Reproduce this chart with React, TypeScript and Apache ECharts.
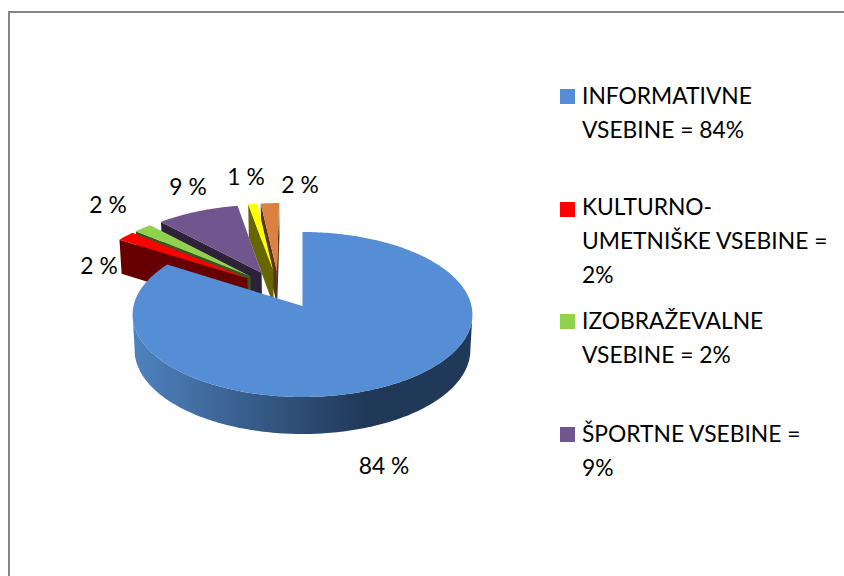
import React, { useEffect, useRef } from "react";
import * as echarts from "echarts";

const categories = ["INFORMATIVNE VSEBINE", "KULTURNO-UMETNIŠKE VSEBINE", "IZOBRAŽEVALNE VSEBINE", "ŠPORTNE VSEBINE", "OSTALO 1", "OSTALO 2"];
const values = [84, 2, 2, 9, 1, 2];
const topColors = ["#558ED5", "#FF0000", "#92D050", "#71558F", "#FFFF00", "#DB8141"];
const sideColors = ["#223A5C", "#660000", "#3A5320", "#2D2239", "#666600", "#58341A"];
const legendLines = [
  "INFORMATIVNE\nVSEBINE = 84%",
  "KULTURNO-\nUMETNIŠKE VSEBINE =\n2%",
  "IZOBRAŽEVALNE\nVSEBINE = 2%",
  "ŠPORTNE VSEBINE =\n9%",
];
const legendColors = ["#558ED5", "#FF0000", "#92D050", "#71558F"];

// layout of the view (not data)
const VIEW = { x0: 302.5, y0: 306, a: 81.6, b: 169, k: 0.103, explode: 0.24, bias: -0.028, depth: 35.3, sx: 0.988, sy: 1.019 };
const labelAnchors: [number, number][] = [[384, 465], [99, 265], [108, 204], [188, 186], [246, 176], [300, 184]];
const legendY = [95, 206, 320, 433];
const swatchY = [96, 209, 321, 434];

const total = values.reduce((s, v) => s + v, 0);
const starts: number[] = [];
values.reduce((acc, v, i) => { starts[i] = acc; return acc + (v / total) * Math.PI * 2; }, 0);
const ends = values.map((v, i) => starts[i] + (v / total) * Math.PI * 2);
const dir = (t: number): [number, number] => [Math.sin(t), -Math.cos(t)];
const mid = (i: number) => (starts[i] + ends[i]) / 2;
const shift = (() => { const d = dir(mid(0)); return [-VIEW.explode * d[0], -VIEW.explode * d[1]]; })();
const offset = (i: number): [number, number] => {
  const d = dir(mid(i));
  return [
    shift[0] + VIEW.explode * d[0] + (i === 0 ? 0 : VIEW.bias),
    shift[1] + VIEW.explode * d[1],
  ];
};
const proj = (u: number, v: number, bottom: boolean): [number, number] => {
  const w = 1 - VIEW.k * v;
  const x = (VIEW.b * u) / w;
  const y = (VIEW.a * v) / w;
  return bottom
    ? [VIEW.x0 + x * VIEW.sx, VIEW.y0 + y * VIEW.sy + VIEW.depth]
    : [VIEW.x0 + x, VIEW.y0 + y];
};
const order = values.map((_, i) => i).sort((a, b) => dir(mid(a))[1] - dir(mid(b))[1]);

function renderSlice(_p: any, api: any) {
  const i = api.value(0) as number;
  const [ou, ov] = offset(i);
  const steps = Math.max(4, Math.round(((ends[i] - starts[i]) / (Math.PI * 2)) * 360));
  const ground: [number, number][] = [[ou, ov]];
  for (let s = 0; s <= steps; s++) {
    const d = dir(starts[i] + ((ends[i] - starts[i]) * s) / steps);
    ground.push([ou + d[0], ov + d[1]]);
  }
  ground.push([ou, ov]);
  const top = ground.map((g) => proj(g[0], g[1], false));
  const bot = ground.map((g) => proj(g[0], g[1], true));
  const children: any[] = [];
  const fillFor = (idx: number) =>
    idx === 0
      ? new echarts.graphic.LinearGradient(0, 0, 1, 0, [
          { offset: 0, color: "#4F82BE" },
          { offset: 0.68, color: "#213959" },
          { offset: 1, color: "#213959" },
        ])
      : sideColors[idx];
  // side walls: an edge of the clockwise outline is seen when it runs leftwards
  let run: number[] = [];
  const flush = () => {
    if (run.length) {
      const points = [
        ...run.map((n) => top[n]),
        ...[...run].reverse().map((n) => bot[n]),
      ];
      children.push({ type: "polygon", shape: { points }, style: { fill: fillFor(i), stroke: null } });
    }
    run = [];
  };
  for (let n = 0; n < top.length - 1; n++) {
    if (top[n + 1][0] < top[n][0]) {
      if (!run.length || run[run.length - 1] !== n) { flush(); run = [n]; }
      run.push(n + 1);
    } else flush();
  }
  flush();
  children.push({ type: "polygon", shape: { points: top.slice(0, -1) }, style: { fill: topColors[i], stroke: null } });
  return { type: "group", children };
}

export default function App() {
  const ref = useRef<HTMLDivElement>(null);
  useEffect(() => {
    document.body.style.margin = "0";
    const chart = echarts.init(ref.current!, undefined, { renderer: "svg" });
    const font = "Lato, Carlito, sans-serif";
    chart.setOption({
      animation: false,
      backgroundColor: "#FFFFFF",
      series: [
        {
          type: "custom",
          coordinateSystem: "none",
          silent: true,
          renderItem: renderSlice,
          data: order.map((i) => ({ name: categories[i], value: [i, values[i]] })),
        },
      ],
      graphic: [
        { type: "line", shape: { x1: 9, y1: 12, x2: 844, y2: 12 }, style: { stroke: "#868686", lineWidth: 2 } },
        { type: "line", shape: { x1: 9, y1: 11, x2: 9, y2: 576 }, style: { stroke: "#868686", lineWidth: 2 } },
        ...values.map((v, i) => ({
          type: "text",
          x: labelAnchors[i][0],
          y: labelAnchors[i][1],
          style: { text: `${v} %`, font: `22.8px ${font}`, fill: "#000", textAlign: "center", textVerticalAlign: "middle" },
        })),
        ...legendLines.flatMap((t, i) => [
          { type: "rect", shape: { x: 560, y: swatchY[i] - 7, width: 15, height: 15 }, style: { fill: legendColors[i] } },
          {
            type: "text",
            x: 582,
            y: legendY[i] - 17,
            style: { text: t, font: `22.8px ${font}`, lineHeight: 34, fill: "#000", textAlign: "left", textVerticalAlign: "top" },
          },
        ]),
      ],
    });
    return () => chart.dispose();
  }, []);
  return <div ref={ref} style={{ width: 844, height: 576 }} />;
}
